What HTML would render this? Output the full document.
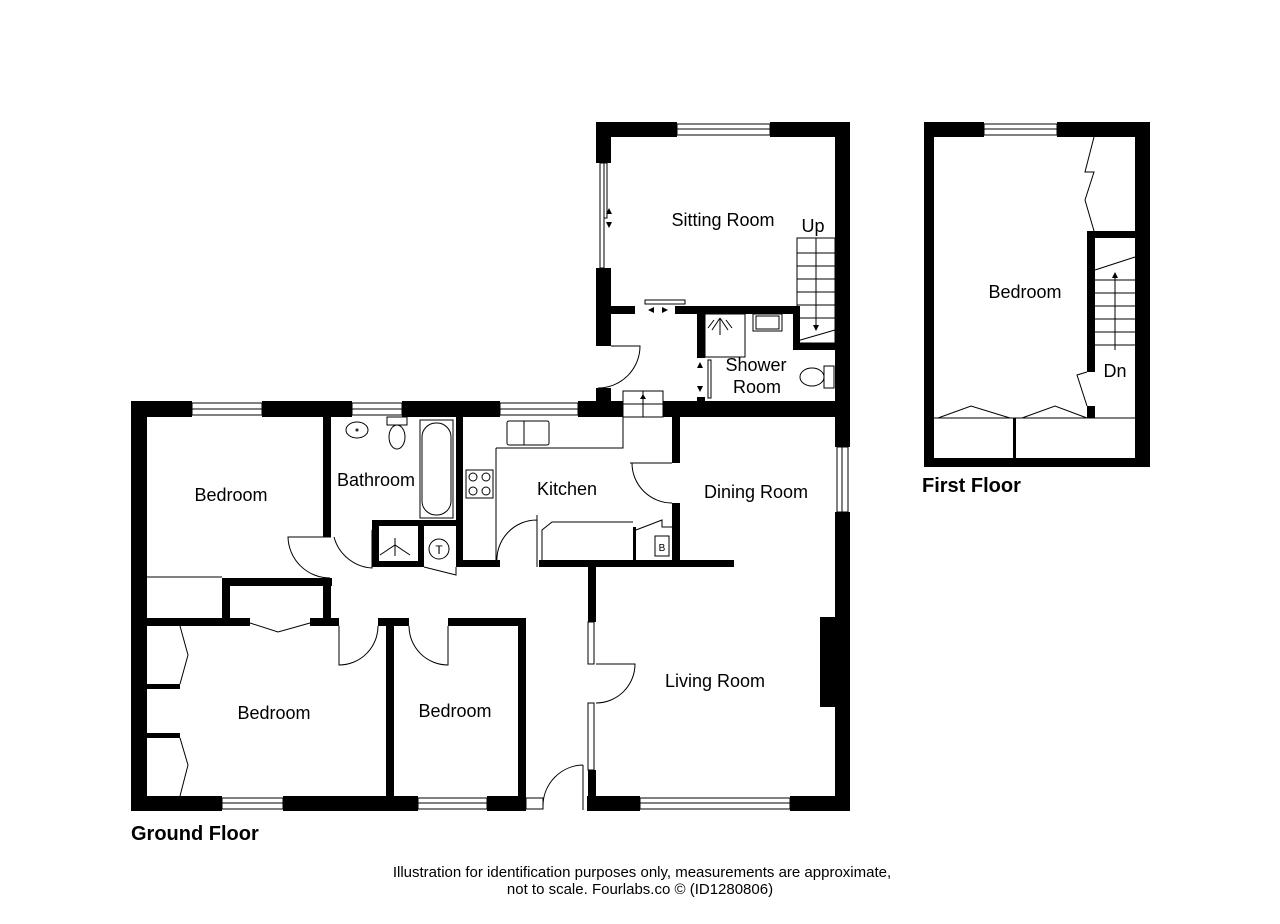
<!DOCTYPE html>
<html><head><meta charset="utf-8"><style>
html,body{margin:0;padding:0;background:#fff}
svg{display:block}
text{font-family:"Liberation Sans",Arial,sans-serif;fill:#000}
</style></head><body>
<svg width="1280" height="924" viewBox="0 0 1280 924" xmlns="http://www.w3.org/2000/svg">
<g fill="#000">
<rect x="131" y="401" width="61" height="16"/>
<rect x="262" y="401" width="90" height="16"/>
<rect x="402" y="401" width="98" height="16"/>
<rect x="578" y="401" width="45" height="16"/>
<rect x="663" y="401" width="187" height="16"/>
<rect x="131" y="401" width="16" height="410"/>
<rect x="131" y="796" width="91" height="15"/>
<rect x="283" y="796" width="135" height="15"/>
<rect x="487" y="796" width="39" height="15"/>
<rect x="587" y="796" width="53" height="15"/>
<rect x="790" y="796" width="60" height="15"/>
<rect x="835" y="122" width="15" height="325"/>
<rect x="835" y="512" width="15" height="299"/>
<rect x="820" y="617" width="30" height="90"/>
<rect x="596" y="122" width="81" height="15"/>
<rect x="770" y="122" width="80" height="15"/>
<rect x="596" y="122" width="15" height="41"/>
<rect x="596" y="268" width="15" height="78"/>
<rect x="596" y="388" width="15" height="14"/>
<rect x="611" y="306" width="24" height="8"/>
<rect x="675" y="306" width="125" height="8"/>
<rect x="793" y="306" width="7" height="44"/>
<rect x="793" y="343" width="42" height="7"/>
<rect x="697" y="306" width="8" height="52"/>
<rect x="697" y="397" width="8" height="5"/>
<rect x="672" y="417" width="8" height="46"/>
<rect x="672" y="503" width="8" height="64"/>
<rect x="539" y="560" width="195" height="7"/>
<rect x="633" y="527" width="3" height="35"/>
<rect x="456" y="417" width="7" height="150"/>
<rect x="456" y="560" width="44" height="7"/>
<rect x="588" y="567" width="8" height="55"/>
<rect x="588" y="770" width="8" height="30"/>
<rect x="323" y="417" width="8" height="120"/>
<rect x="222" y="578" width="110" height="8"/>
<rect x="222" y="578" width="8" height="48"/>
<rect x="323" y="578" width="8" height="48"/>
<rect x="147" y="618" width="103" height="8"/>
<rect x="310" y="618" width="29" height="8"/>
<rect x="378" y="618" width="31" height="8"/>
<rect x="448" y="618" width="78" height="8"/>
<rect x="386" y="618" width="8" height="178"/>
<rect x="518" y="618" width="8" height="178"/>
<rect x="147" y="684" width="33" height="5"/>
<rect x="147" y="733" width="33" height="5"/>
<rect x="372" y="520" width="91" height="6"/>
<rect x="372" y="520" width="7" height="47"/>
<rect x="372" y="561" width="46" height="6"/>
<rect x="418" y="520" width="6" height="47"/>
<rect x="924" y="122" width="60" height="15"/>
<rect x="1057" y="122" width="93" height="15"/>
<rect x="924" y="122" width="10" height="344"/>
<rect x="1135" y="122" width="15" height="344"/>
<rect x="924" y="458" width="226" height="9"/>
<rect x="1087" y="231" width="48" height="7"/>
<rect x="1087" y="231" width="8" height="141"/>
<rect x="1087" y="406" width="8" height="12"/>
<rect x="1013" y="418" width="3" height="40"/>
</g>
<g fill="none" stroke="#000" stroke-width="1">
<rect x="192" y="403" width="70" height="12"/><line x1="192" y1="409" x2="262" y2="409"/>
<rect x="352" y="403" width="50" height="12"/><line x1="352" y1="409" x2="402" y2="409"/>
<rect x="500" y="403" width="78" height="12"/><line x1="500" y1="409" x2="578" y2="409"/>
<rect x="677" y="124" width="93" height="11"/><line x1="677" y1="129" x2="770" y2="129"/>
<rect x="984" y="124" width="73" height="11"/><line x1="984" y1="129" x2="1057" y2="129"/>
<rect x="222" y="798" width="61" height="11"/><line x1="222" y1="803" x2="283" y2="803"/>
<rect x="418" y="798" width="69" height="11"/><line x1="418" y1="803" x2="487" y2="803"/>
<rect x="640" y="798" width="150" height="11"/><line x1="640" y1="803" x2="790" y2="803"/>
<rect x="526" y="798" width="17" height="11"/>
<rect x="837" y="447" width="11" height="65"/><line x1="842" y1="447" x2="842" y2="512"/>
<rect x="600" y="163" width="4" height="105"/><rect x="604" y="163" width="3" height="55"/>
<rect x="588" y="622" width="6" height="42"/><rect x="588" y="703" width="6" height="67"/>
<path d="M611 346 L640 346 A42 42 0 0 1 598 388"/>
<path d="M630 463 L672 463 M672 503 A40 40 0 0 1 632 463"/>
<path d="M331 537 L288 537 A42 42 0 0 0 330 578"/>
<path d="M334 537 A42 42 0 0 0 372 568 L372 530"/>
<path d="M339 626 L339 665 A39 39 0 0 0 378 626"/>
<path d="M448 626 L448 665 A39 39 0 0 1 409 626"/>
<path d="M596 664 L635 664 A39 39 0 0 1 596 703"/>
<path d="M583 765 L583 810 M583 765 A41 41 0 0 0 543 806"/>
<path d="M537 515 L537 567 M497 563 A40 40 0 0 1 537 520"/>
<path d="M542 562 L542 530 L552 522 L633 522"/>
<path d="M636 530 L662 520 L662 527 L672 527"/>
<rect x="655" y="536" width="14" height="20"/>
<rect x="623" y="391" width="40" height="26"/><line x1="643" y1="391" x2="643" y2="417"/><line x1="623" y1="404" x2="663" y2="404"/>
<path d="M623 417 L623 448 L580 448"/>
<rect x="645" y="300" width="40" height="4"/>
<rect x="708" y="360" width="3" height="38"/>
<rect x="797" y="238" width="38" height="105"/>
<path d="M797 253H835M797 266H835M797 279H835M797 292H835M797 305H835M797 318H835M816 238V325M797 341L835 330"/>
<rect x="705" y="314" width="40" height="43"/>
<rect x="753" y="314" width="29" height="17"/><rect x="756" y="316" width="23" height="13"/>
<ellipse cx="812" cy="377" rx="12" ry="9"/><rect x="824" y="366" width="10" height="22"/>
<ellipse cx="357" cy="430" rx="11" ry="8"/><circle cx="357" cy="430" r="1"/>
<rect x="387" y="417" width="20" height="8"/><ellipse cx="397" cy="437" rx="8" ry="12"/>
<rect x="420" y="420" width="33" height="98"/><rect x="422" y="423" width="29" height="92" rx="14"/>
<circle cx="439" cy="549" r="10"/>
<path d="M424 567 L456 575 L456 567"/>
<path d="M380 555 L395 545 L410 555 M395 538 L395 556"/>
<path d="M720 318 L712 330 M720 318 L728 330 M720 318 L720 335 M714 320L708 328 M726 320 L732 328"/>
<rect x="507" y="421" width="42" height="24" rx="2"/><line x1="524" y1="421" x2="524" y2="445"/>
<path d="M496 448 L496 560 M496 448 L623 448"/>
<rect x="466" y="470" width="27" height="28"/>
<circle cx="473" cy="477" r="4"/><circle cx="486" cy="477" r="4"/><circle cx="473" cy="491" r="4"/><circle cx="486" cy="491" r="4"/>
<path d="M147 577 L222 577"/>
<path d="M250 623 L278 632 L310 623"/>
<path d="M180 626 L188 655 L180 684 M180 738 L188 765 L180 796"/>
<path d="M1095 270 L1135 257 M1095 280H1135M1095 293H1135M1095 306H1135M1095 319H1135M1095 332H1135M1095 345H1135M1115 278V350"/>
<line x1="933" y1="418" x2="1135" y2="418"/>
<path d="M938 418 L971 406 L1010 418 M1022 418 L1055 406 L1087 418"/>
<path d="M1094 137 L1085 172 L1094 172 L1085 200 L1094 231"/>
<path d="M1087 372 L1077 375 L1087 406"/>
</g>
<g fill="#000">
<path d="M813 325 L819 325 L816 331Z"/>
<path d="M1112 278 L1118 278 L1115 272Z"/>
<path d="M640 399 L646 399 L643 394Z"/>
<path d="M609 208 L612 214 L606 214Z M609 228 L612 222 L606 222Z"/>
<path d="M648 310 L654 307 L654 313Z M668 310 L662 307 L662 313Z"/>
<path d="M700 362 L703 368 L697 368Z M700 392 L703 386 L697 386Z"/>
</g>
<g font-size="18">
<text x="723" y="226" text-anchor="middle">Sitting Room</text>
<text x="813" y="232" text-anchor="middle">Up</text>
<text x="756" y="371" text-anchor="middle">Shower</text>
<text x="757" y="393" text-anchor="middle">Room</text>
<text x="231" y="501" text-anchor="middle">Bedroom</text>
<text x="376" y="486" text-anchor="middle">Bathroom</text>
<text x="567" y="495" text-anchor="middle">Kitchen</text>
<text x="756" y="498" text-anchor="middle">Dining Room</text>
<text x="715" y="687" text-anchor="middle">Living Room</text>
<text x="274" y="719" text-anchor="middle">Bedroom</text>
<text x="455" y="717" text-anchor="middle">Bedroom</text>
<text x="1025" y="298" text-anchor="middle">Bedroom</text>
<text x="1115" y="377" text-anchor="middle">Dn</text>
</g>
<text x="439" y="554" font-size="12" text-anchor="middle">T</text>
<text x="662" y="551" font-size="10" text-anchor="middle">B</text>
<text x="131" y="840" font-size="20" font-weight="bold">Ground Floor</text>
<text x="922" y="492" font-size="20" font-weight="bold">First Floor</text>
<text x="642" y="877" font-size="15" text-anchor="middle">Illustration for identification purposes only, measurements are approximate,</text>
<text x="640" y="894" font-size="15" text-anchor="middle">not to scale. Fourlabs.co © (ID1280806)</text>
</svg>
</body></html>
